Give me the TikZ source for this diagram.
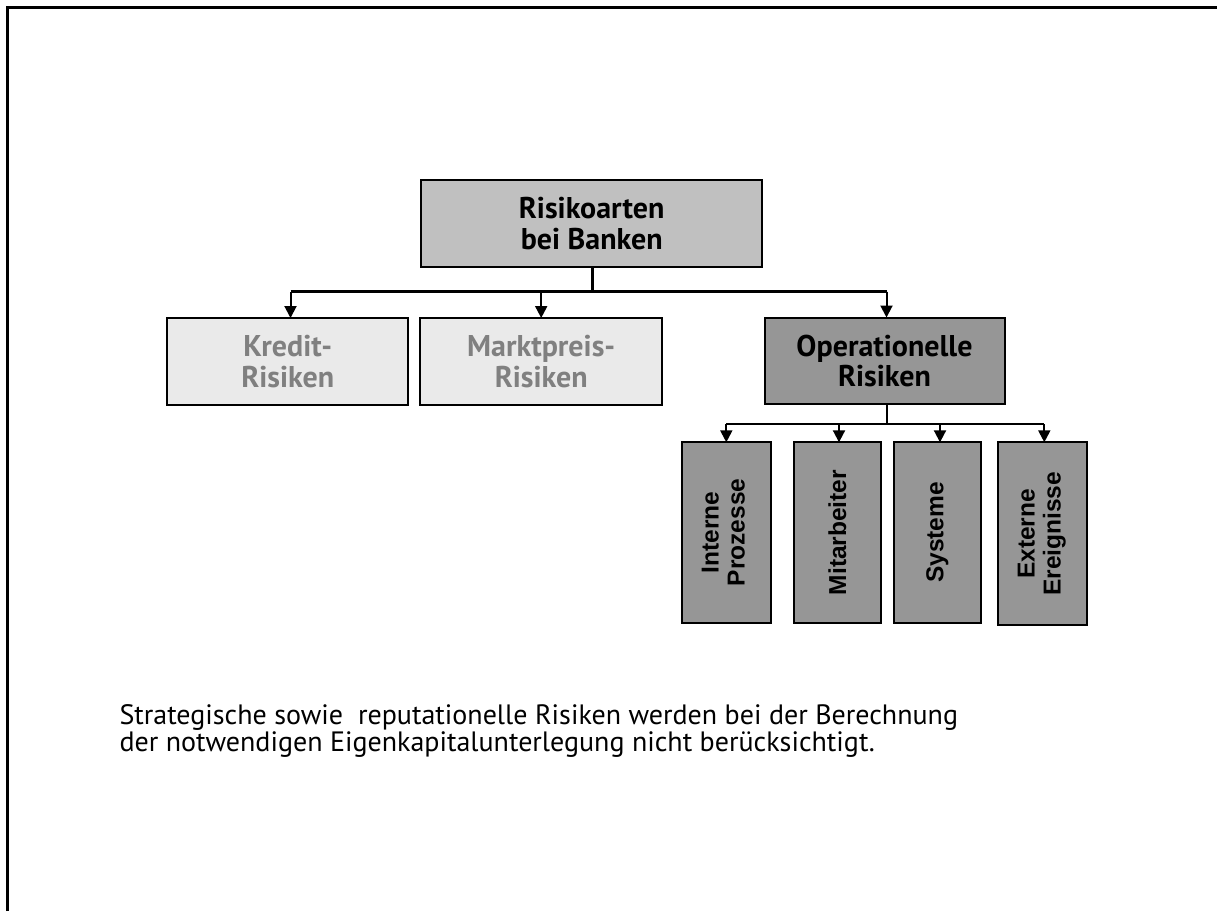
\documentclass[tikz,border=0pt]{standalone}
\usepackage{fontspec}
\setmainfont{PT Sans}
\newfontfamily\vfont{Liberation Sans}
\usetikzlibrary{arrows.meta}
\definecolor{topfill}{HTML}{C0C0C0}
\definecolor{opfill}{HTML}{969696}
\definecolor{lightfill}{HTML}{EAEAEA}
\definecolor{graytext}{HTML}{808080}
\begin{document}
\begin{tikzpicture}[x=1pt,y=-1pt,
  box/.style={draw=black, line width=2pt, inner sep=0pt, outer sep=0pt, align=center,
    font=\bfseries\fontsize{30}{30.5}\selectfont},
  vbox/.style={draw=black, line width=2pt, inner sep=0pt, outer sep=0pt, fill=opfill,
    minimum width=87pt, minimum height=180.4pt,
    font=\vfont\bfseries\fontsize{24.5}{26}\selectfont},
  conn/.style={line width=2.2pt},
  arr/.style={line width=2pt, -{Triangle[length=12pt,width=12pt]}},
  body/.style={anchor=base west, inner sep=0pt, font=\fontsize{28}{27.4}\selectfont}
]
\useasboundingbox (0,0) rectangle (1217,911);
\draw[line width=3pt] (7.5,911) -- (7.5,7.5) -- (1217,7.5);

\node[box, fill=topfill, minimum width=340.5pt, minimum height=86.7pt] (top) at (591.7,223.3) {Risikoarten\\bei Banken};
\node[box, fill=lightfill, text=graytext, minimum width=240.5pt, minimum height=87pt] (kredit) at (287.7,361.5) {Kredit-\\Risiken};
\node[box, fill=lightfill, text=graytext, minimum width=242.5pt, minimum height=87pt] (markt) at (541.2,361.5) {Marktpreis-\\Risiken};
\node[box, fill=opfill, minimum width=240pt, minimum height=86.8pt] (oper) at (884.5,360.9) {Operationelle\\Risiken};

\node[vbox, minimum width=88.7pt] (b1) at (726.3,532.5) {\rotatebox{90}{\begin{tabular}{@{}c@{}}Interne\\Prozesse\end{tabular}}};
\node[vbox, minimum width=86.7pt] (b2) at (837.3,532.5) {\rotatebox{90}{Mitarbeiter}};
\node[vbox, minimum width=86.7pt] (b3) at (937.3,532.5) {\rotatebox{90}{Systeme}};
\node[vbox, minimum width=88.4pt, minimum height=183pt] (b4) at (1042.5,533.8) {\rotatebox{90}{\begin{tabular}{@{}c@{}}Externe\\Ereignisse\end{tabular}}};

% first level connectors
\coordinate (j1) at (592.5,291.5);
\coordinate (l1) at (290.5,291.5);
\coordinate (m1) at (541.2,291.5);
\coordinate (r1) at (886.5,291.5);
\draw[conn] (top.south -| j1) -- (j1);
\draw[conn] (l1) -- (r1);
\draw[arr] (l1) -- (l1 |- kredit.north);
\draw[arr] (m1) -- (markt.north);
\draw[arr] (r1) -- (r1 |- oper.north);

% second level connectors
\coordinate (j2) at (886.7,424.3);
\coordinate (l2) at (726.3,424.3);
\coordinate (c2) at (839,424.3);
\coordinate (d2) at (940,424.3);
\coordinate (r2) at (1044.3,424.3);
\draw[conn] (oper.south -| j2) -- (j2);
\draw[conn] (l2) -- (r2);
\draw[arr] (l2) -- (b1.north);
\draw[arr] (c2) -- (c2 |- b2.north);
\draw[arr] (d2) -- (d2 |- b3.north);
\draw[arr] (r2) -- (r2 |- b4.north);

\node[body] (t1) at (119.3,724.3) {Strategische sowie~ reputationelle Risiken werden bei der Berechnung};
\node[body] (t2) at (119.3,751.7) {der notwendigen Eigenkapitalunterlegung nicht berücksichtigt.};
\end{tikzpicture}
\end{document}
